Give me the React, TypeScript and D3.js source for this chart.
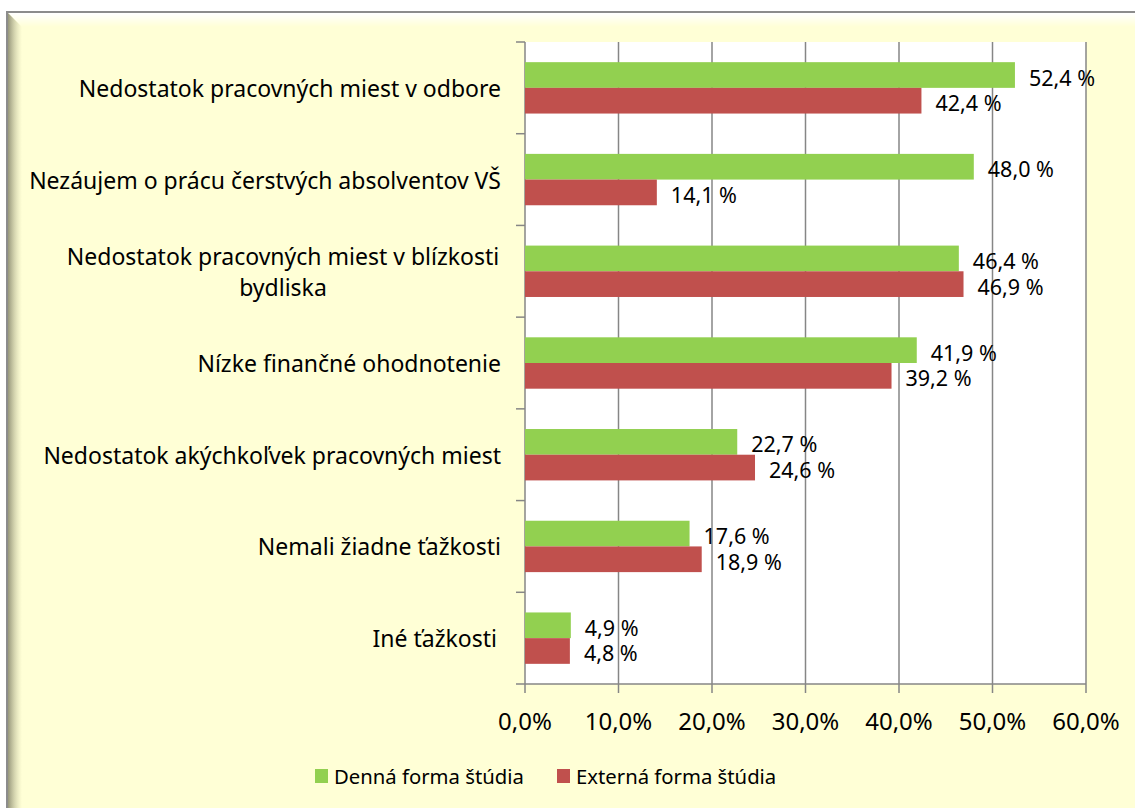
import React from 'react';
import * as d3 from 'd3';

const categories = [
  ['Nedostatok pracovných miest v odbore'],
  ['Nezáujem o prácu čerstvých absolventov VŠ'],
  ['Nedostatok pracovných miest v blízkosti', 'bydliska'],
  ['Nízke finančné ohodnotenie'],
  ['Nedostatok akýchkoľvek pracovných miest'],
  ['Nemali žiadne ťažkosti'],
  ['Iné ťažkosti'],
];
const seriesNames = ['Denná forma štúdia', 'Externá forma štúdia'];
const dennaValues = [52.4, 48.0, 46.4, 41.9, 22.7, 17.6, 4.9];
const externaValues = [42.4, 14.1, 46.9, 39.2, 24.6, 18.9, 4.8];
const xTicks = [0, 10, 20, 30, 40, 50, 60];
const colors = ['#92D050', '#C0504D'];

const W = 1135;
const H = 808;
const margin = { top: 42, right: 49, bottom: 124, left: 525 };
const FONT = '"Noto Sans", "Open Sans", sans-serif';

const App = () => {
  const plotW = W - margin.left - margin.right;
  const plotH = H - margin.top - margin.bottom;
  const keys = categories.map((c, i) => String(i));

  const x = d3.scaleLinear().domain([0, 60]).range([margin.left, margin.left + plotW]);
  const y0 = d3.scaleBand().domain(keys).range([margin.top, margin.top + plotH]);
  const y1 = d3
    .scaleBand()
    .domain(seriesNames)
    .range([0, y0.bandwidth()])
    .paddingOuter(0.785);

  const fmt = (v: number) => v.toFixed(1).replace('.', ',');
  const values = [dennaValues, externaValues];
  const bottom = margin.top + plotH;

  return (
    <svg width={W} height={H} style={{ position: 'absolute', left: 0, top: 0 }}>
      <defs>
        <linearGradient id="topBevel" x1="0" y1="0" x2="0" y2="1">
          <stop offset="0" stopColor="#ffffff" stopOpacity="1" />
          <stop offset="1" stopColor="#ffffff" stopOpacity="0" />
        </linearGradient>
        <linearGradient id="leftBevel" x1="0" y1="0" x2="1" y2="0">
          <stop offset="0" stopColor="#8a8a70" stopOpacity="0.9" />
          <stop offset="1" stopColor="#c8c8a0" stopOpacity="0" />
        </linearGradient>
      </defs>
      <rect x={0} y={0} width={W} height={H} fill="#ffffff" />
      {/* frame */}
      <rect x={7} y={12} width={W + 10} height={H + 10} fill="#FFFFD6" stroke="#8c8c8c" strokeWidth={2} />
      <polygon points={`8,13 ${W},13 ${W},27 22,27`} fill="url(#topBevel)" />
      <polygon points={`8,13 22,27 22,${H} 8,${H}`} fill="url(#leftBevel)" />

      {/* plot area */}
      <rect x={margin.left} y={margin.top} width={plotW} height={plotH} fill="#ffffff" />
      {xTicks.slice(1).map(t => (
        <line key={t} x1={x(t)} x2={x(t)} y1={margin.top} y2={bottom + 9} stroke="#868686" strokeWidth={1.5} />
      ))}
      <line x1={margin.left} x2={margin.left + plotW} y1={bottom} y2={bottom} stroke="#868686" strokeWidth={1.5} />
      <line x1={margin.left} x2={margin.left} y1={margin.top} y2={bottom + 9} stroke="#868686" strokeWidth={1.5} />
      {keys.concat(['end']).map((k, i) => {
        const yy = margin.top + i * y0.bandwidth();
        return <line key={k} x1={margin.left - 9} x2={margin.left} y1={yy} y2={yy} stroke="#868686" strokeWidth={1.5} />;
      })}

      {/* bars */}
      {keys.map((k, i) => (
        <g key={k}>
          {seriesNames.map((s, si) => {
            const v = values[si][i];
            const by = (y0(k) as number) + (y1(s) as number);
            return (
              <g key={s}>
                <rect x={x(0)} y={by} width={x(v) - x(0)} height={y1.bandwidth()} fill={colors[si]} />
                <text
                  x={x(v) + 14}
                  y={by + y1.bandwidth() / 2 + 2}
                  dominantBaseline="central"
                  fontFamily={FONT}
                  fontSize={21.5}
                  fill="#000"
                >
                  {fmt(v)} %
                </text>
              </g>
            );
          })}
        </g>
      ))}

      {/* category labels */}
      {categories.map((lines, i) => {
        const cy = (y0(keys[i]) as number) + y0.bandwidth() / 2;
        const lh = 31;
        const multi = lines.length > 1;
        return (
          <text
            key={i}
            fontFamily={FONT}
            fontSize={23}
            fill="#000"
            textAnchor={multi ? 'middle' : 'end'}
            dominantBaseline="central"
          >
            {lines.map((l, li) => (
              <tspan
                key={li}
                x={multi ? 283 : i === categories.length - 1 ? 497 : 501}
                y={cy + (li - (lines.length - 1) / 2) * lh}
              >
                {l}
              </tspan>
            ))}
          </text>
        );
      })}

      {/* x tick labels */}
      {xTicks.map(t => (
        <text key={t} x={x(t)} y={720} textAnchor="middle" dominantBaseline="central" fontFamily={FONT} fontSize={24} fill="#000">
          {fmt(t)}%
        </text>
      ))}

      {/* legend */}
      {seriesNames.map((s, si) => {
        const lx = si === 0 ? 315 : 557;
        return (
          <g key={s}>
            <rect x={lx} y={769} width={13} height={14} fill={colors[si]} />
            <text x={lx + 19} y={776} dominantBaseline="central" fontFamily={FONT} fontSize={20.3} fill="#000">
              {s}
            </text>
          </g>
        );
      })}
    </svg>
  );
};

export default App;
